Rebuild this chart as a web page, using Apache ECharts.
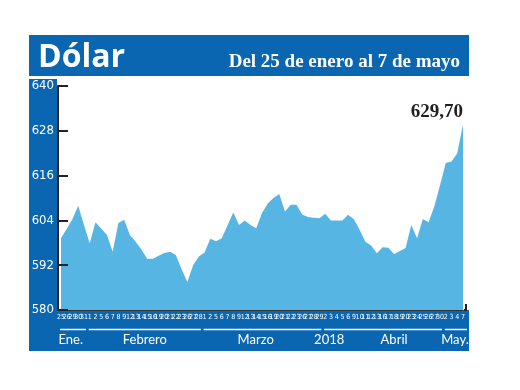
<!DOCTYPE html>
<html><head><meta charset="utf-8">
<script src="https://cdn.jsdelivr.net/npm/echarts@6/dist/echarts.min.js"></script>
<style>html,body{margin:0;padding:0;background:#fff}#c{width:520px;height:390px}</style>
</head><body><div id="c"></div>
<script>
const dates = ['25','26','29','30','31',
  '1','2','5','6','7','8','9','12','13','14','15','16','19','20','21','22','23','26','27','28',
  '1','2','5','6','7','8','9','12','13','14','15','16','19','20','21','22','23','26','27','28','29',
  '2','3','4','5','6','9','10','11','12','13','16','17','18','19','20','23','24','25','26','27','30',
  '2','3','4','7'];
const values = [599.3,601.7,604.4,607.9,602.8,
  597.9,603.5,601.8,600.1,595.6,603.3,604.2,600.1,598.3,596.2,593.7,593.7,594.5,595.3,595.6,594.7,590.9,587.5,592.0,594.3,
  595.4,599.1,598.4,599.2,602.7,606.1,602.8,604.0,602.8,601.9,606.0,608.5,610.0,611.1,606.4,608.2,608.2,605.6,604.9,604.7,604.6,
  605.8,604.0,604.0,604.0,605.5,604.3,601.5,598.3,597.3,595.2,596.8,596.7,595.0,595.8,596.6,602.8,599.2,604.4,603.5,607.7,613.4,
  619.4,619.8,622.0,629.7];
const yMin = 580, yMax = 640, yStep = 12;
const monthStart = [0,5,25,46,67];
const monthEnd = [4,24,45,66,70];
const bottomLabels = ['Ene.','Febrero','Marzo','2018','Abril','May.'];
const bottomLabelAt = [1.7,14.6,33.9,46.7,58,68.6];
const titleText = 'Dólar';
const subtitleText = 'Del 25 de enero al 7 de mayo';
const lastLabel = '629,70';

const DARK = '#0a66b0';
const AREA = '#57b5e3';
const NARROW = "'Liberation Sans Narrow','DejaVu Sans Condensed',sans-serif";

const chart = echarts.init(document.getElementById('c'));
chart.setOption({
  animation: false,
  grid: {left: 61, right: 57, top: 86, bottom: 80},
  xAxis: {
    type: 'category', data: dates, boundaryGap: false, z: 5,
    axisLine: {show: true, lineStyle: {color: '#333', width: 1}},
    axisTick: {show: false},
    axisLabel: {interval: 0, color: '#fff', fontSize: 7, margin: 4, fontFamily: NARROW}
  },
  yAxis: {
    type: 'value', min: yMin, max: yMax, interval: yStep, offset: 3, z: 5,
    axisLine: {show: true, lineStyle: {color: '#222', width: 2}},
    axisTick: {show: true, inside: true, length: 10, lineStyle: {color: '#222', width: 2}},
    axisLabel: {color: '#fff', fontSize: 13, margin: 4, fontFamily: NARROW},
    splitLine: {show: false}
  },
  series: [{
    type: 'line', data: values, symbol: 'none', z: 2,
    lineStyle: {width: 0},
    areaStyle: {color: AREA, opacity: 1, origin: 'start'},
    markPoint: {
      symbol: 'circle', symbolSize: 0,
      data: [{coord: [values.length - 1, values[values.length - 1]]}],
      label: {show: true, formatter: lastLabel, position: 'top', align: 'right', distance: 3,
        color: '#231f20', fontSize: 19, fontWeight: 'bold', fontFamily: "'Liberation Serif',serif"}
    }
  }]
});

function px(i) {
  const a = chart.convertToPixel({xAxisIndex: 0}, 0);
  const b = chart.convertToPixel({xAxisIndex: 0}, 1);
  return a + (b - a) * i;
}
const yBase = chart.convertToPixel({yAxisIndex: 0}, yMin);
const g = [
  {type: 'rect', z: -1, shape: {x: 29, y: 35, width: 440, height: 41}, style: {fill: DARK}},
  {type: 'rect', z: -1, shape: {x: 29, y: 79, width: 28, height: yBase - 79}, style: {fill: DARK}},
  {type: 'rect', z: -1, shape: {x: 29, y: yBase, width: 440, height: 41}, style: {fill: DARK}},
  {type: 'text', z: 10, x: 38, y: 58, style: {text: titleText, fill: '#fff', font: "bold 32px 'Open Sans',sans-serif", verticalAlign: 'middle', align: 'left'}},
  {type: 'text', z: 10, x: 460, y: 62, style: {text: subtitleText, fill: '#fff', font: "bold 19px 'Liberation Serif',serif", verticalAlign: 'middle', align: 'right'}},
  {type: 'polyline', z: 10, shape: {points: [[px(values.length - 1) + 1, yBase], [px(values.length - 1) + 3, yBase], [px(values.length - 1) + 3, yBase - 6]]}, style: {stroke: '#222', lineWidth: 2, fill: null}}
];
for (let k = 0; k < monthStart.length; k++) {
  const x1 = px(monthStart[k]) - 1;
  const x2 = k === monthStart.length - 1 ? 467 : px(monthEnd[k]) + 2;
  g.push({type: 'line', z: 10, shape: {x1: x1, y1: yBase + 19.5, x2: x2, y2: yBase + 19.5}, style: {stroke: '#fff', lineWidth: 1.5}});
}
for (let k = 0; k < bottomLabels.length; k++) {
  g.push({type: 'text', z: 10, x: px(bottomLabelAt[k]), y: yBase + 30, style: {text: bottomLabels[k], fill: '#fff', font: "13px Lato,sans-serif", align: 'center', verticalAlign: 'middle'}});
}
chart.setOption({graphic: g});
</script>
</body></html>
